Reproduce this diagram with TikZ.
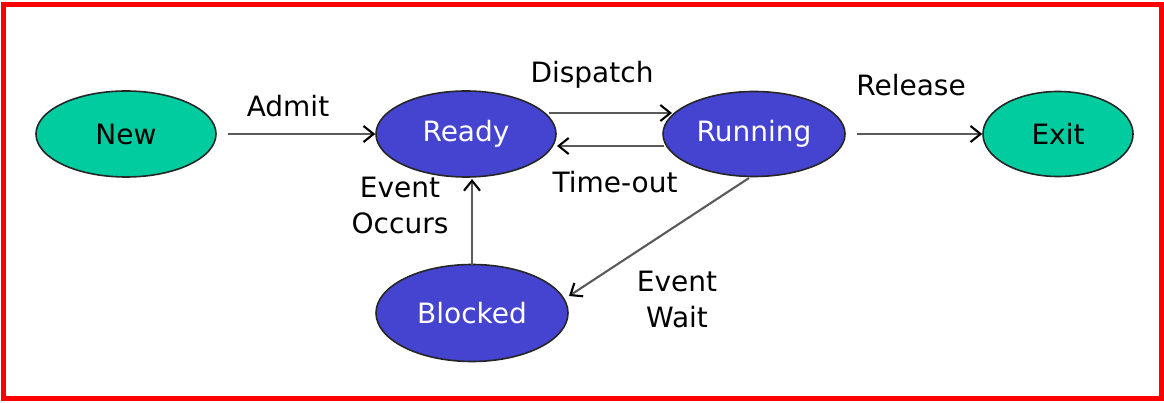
\documentclass[tikz,border=0pt]{standalone}
\usepackage{fontspec}
\setmainfont{DejaVu Sans}
\usetikzlibrary{shapes.geometric,arrows.meta}
\definecolor{stateteal}{RGB}{0,204,160}
\definecolor{stateblue}{RGB}{68,68,208}
\definecolor{edgegray}{RGB}{90,90,90}
\begin{document}
\begin{tikzpicture}[x=1pt,y=-1pt,
  every node/.style={font=\fontsize{28}{36}\selectfont},
  state/.style={ellipse,draw=black!85,line width=1.6pt,inner sep=0pt},
  endstate/.style={state,fill=stateteal,text=black},
  midstate/.style={state,fill=stateblue,text=white},
  trans/.style={draw=edgegray,line width=2.1pt,
    -{Straight Barb[length=10pt,width=16pt,line width=2.1pt,color=black]}},
  lbl/.style={text=black,align=center,inner sep=0pt}]
  \useasboundingbox (0,0) rectangle (1164,403);
  \fill[white] (0,0) rectangle (1164,403);
  % outer frame
  \draw[red,line width=5pt] (3,4.5) rectangle (1161,398);

  % states
  \node[endstate,minimum width=180pt,minimum height=86pt] (new) at (126,134) {New};
  \node[midstate,minimum width=180pt,minimum height=86pt] (ready) at (466,134) {Ready};
  \node[midstate,minimum width=182pt,minimum height=85pt] (running) at (754,134) {Running};
  \node[endstate,minimum width=150pt,minimum height=85pt] (exit) at (1058,134) {Exit};
  \node[midstate,minimum width=192pt,minimum height=97pt] (blocked) at (472,313) {Blocked};

  % connector end points
  \coordinate (admitS) at (228,134);
  \coordinate (relS) at (857,134);
  \coordinate (dispS) at (549,113);
  \coordinate (dispE) at (672,113);
  \coordinate (toS) at (664,146);
  \coordinate (toE) at (557,146);
  \coordinate (occS) at (472,265);
  \coordinate (occE) at (472,179);
  \coordinate (waitS) at (749,178);
  \coordinate (waitE) at (569,296);

  % transitions
  \draw[trans] (admitS) -- (ready.west);
  \draw[trans] (dispS) -- (dispE);
  \draw[trans] (toS) -- (toE);
  \draw[trans] (relS) -- (exit.west);
  \draw[trans] (occS) -- (occE);
  \draw[trans] (waitS) -- (waitE);

  % labels
  \node[lbl] (admit) at (288,106) {Admit};
  \node[lbl] (dispatch) at (592,75) {Dispatch};
  \node[lbl] (timeout) at (615,182) {Time-out};
  \node[lbl] (release) at (911,85) {Release};
  \node[lbl] (occurs) at (400,205) {Event\\Occurs};
  \node[lbl] (wait) at (677,299) {Event\\Wait};
\end{tikzpicture}
\end{document}
